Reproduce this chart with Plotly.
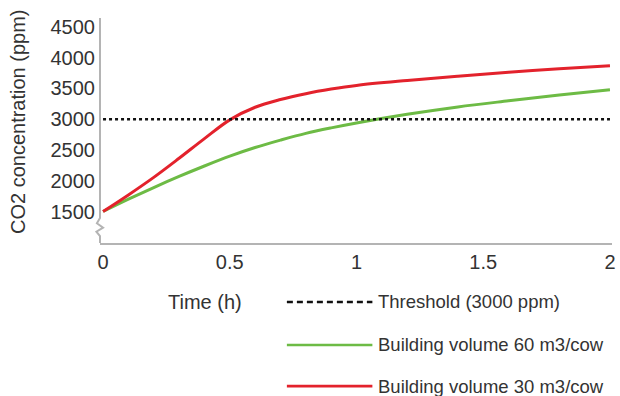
import plotly.graph_objects as go

# Values
time_h = [0, 0.1, 0.2, 0.3, 0.4, 0.5, 0.6, 0.7, 0.8, 0.9, 1.0, 1.2, 1.4, 1.6, 1.8, 2.0]
co2_30 = [1500, 1770, 2055, 2365, 2685, 2990, 3195, 3320, 3415, 3490, 3550, 3630, 3700, 3765, 3820, 3870]
co2_60 = [1500, 1700, 1890, 2070, 2240, 2400, 2540, 2660, 2770, 2860, 2940, 3080, 3200, 3300, 3395, 3480]
threshold_x = [0, 2]
threshold_y = [3000, 3000]

y_ticks = [1500, 2000, 2500, 3000, 3500, 4000, 4500]
x_ticks = [0, 0.5, 1, 1.5, 2]
x_tick_text = ["0", "0.5", "1", "1.5", "2"]

legend_names = ["Threshold (3000 ppm)", "Building volume 60 m3/cow", "Building volume 30 m3/cow"]
legend_colors = ["#111111", "#6dbb45", "#e3222c"]
legend_dash = ["6px,4px", "solid", "solid"]

font = "Liberation Sans, Arial, sans-serif"
text_col = "#333333"
axis_col = "#b4b4b4"

fig = go.Figure()
fig.add_trace(go.Scatter(x=time_h, y=co2_60, mode="lines", line=dict(color=legend_colors[1], width=3, shape="spline", smoothing=1)))
fig.add_trace(go.Scatter(x=time_h, y=co2_30, mode="lines", line=dict(color=legend_colors[2], width=3, shape="spline", smoothing=1)))
fig.add_trace(go.Scatter(x=threshold_x, y=threshold_y, mode="lines", line=dict(color="#111111", width=2.6, dash="dot")))

# hand-made legend below the plot, like the original figure
rows_y = [-0.262, -0.453, -0.636]
for name, col, dash, yy in zip(legend_names, legend_colors, legend_dash, rows_y):
    fig.add_shape(type="line", xref="paper", yref="paper", x0=0.365, x1=0.532, y0=yy, y1=yy,
                  line=dict(color=col, width=2.6, dash=dash))
    fig.add_annotation(text=name, xref="paper", yref="paper", x=0.54, y=yy, xanchor="left", yanchor="middle",
                       showarrow=False, font=dict(size=18.5, color=text_col, family=font))

fig.add_annotation(text="Time (h)", xref="paper", yref="paper", x=0.205, y=-0.262, xanchor="center", yanchor="middle",
                   showarrow=False, font=dict(size=20, color=text_col, family=font))
fig.add_annotation(text="CO2 concentration (ppm)", xref="paper", yref="paper", x=-0.16, y=0.538, textangle=-90,
                   xanchor="center", yanchor="middle", showarrow=False, font=dict(size=20, color=text_col, family=font))

# y axis line with a break (zigzag) near the bottom
fig.add_shape(type="path", xref="paper", yref="paper",
              path="M 0,0 L 0,0.031 L -0.007,0.05 L 0.006,0.068 L -0.006,0.088 L 0,0.111 L 0,1",
              line=dict(color=axis_col, width=2))

fig.update_layout(
    width=620, height=396,
    margin=dict(l=100, r=8, t=18, b=153),
    plot_bgcolor="white", paper_bgcolor="white",
    showlegend=False,
    font=dict(family=font, color=text_col),
    xaxis=dict(range=[-0.012, 2.008], tickvals=x_ticks, ticktext=x_tick_text, showgrid=False, zeroline=False,
               showline=True, linecolor=axis_col, linewidth=2, ticks="", tickfont=dict(size=20),
               ticklabelstandoff=0, automargin=False),
    yaxis=dict(range=[988, 4646], tickvals=y_ticks, showgrid=False, zeroline=False, showline=False,
               ticks="", tickfont=dict(size=20), ticklabelstandoff=4, automargin=False),
)

# drop the page's default body margin so the figure sits at the window's corner
fig.write_html("out.html", config={"displayModeBar": False},
               post_script="document.body.style.margin='0';")
